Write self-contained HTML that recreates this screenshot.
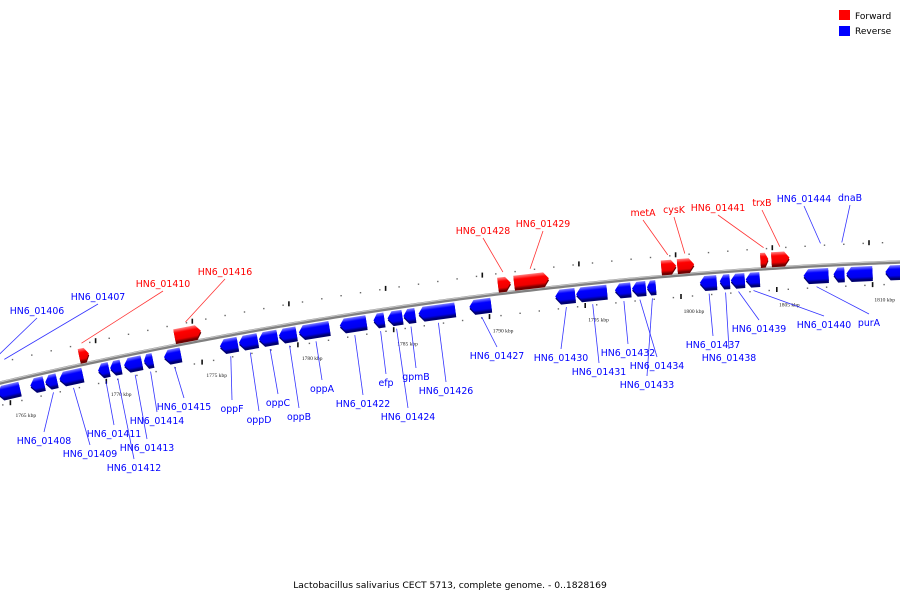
<!DOCTYPE html>
<html><head><meta charset="utf-8"><style>
body{margin:0;background:#fff}
svg{display:block;font-family:"DejaVu Sans","Liberation Sans",sans-serif}
</style></head><body>
<svg id="c" width="900" height="600" viewBox="0 0 900 600">
<defs>
<linearGradient id="gr" x1="0" y1="0" x2="0" y2="1"><stop offset="0" stop-color="#ff8080"/><stop offset="0.3" stop-color="#ff0000"/><stop offset="0.8" stop-color="#ee0000"/><stop offset="1" stop-color="#800000"/></linearGradient>
<linearGradient id="gb" x1="0" y1="0" x2="0" y2="1"><stop offset="0" stop-color="#8080ff"/><stop offset="0.3" stop-color="#0000ff"/><stop offset="0.8" stop-color="#0000ee"/><stop offset="1" stop-color="#000080"/></linearGradient>
</defs>
<g id="legend">
<rect x="839" y="10" width="11" height="10" fill="#f00"/>
<text x="855" y="19" font-size="9" fill="#000">Forward</text>
<rect x="839" y="26" width="11" height="10" fill="#00f"/>
<text x="855" y="34" font-size="9" fill="#000">Reverse</text>
</g>
<text x="450" y="588" font-size="9.2" text-anchor="middle" fill="#000">Lactobacillus salivarius CECT 5713, complete genome. - 0..1828169</text>
</svg>
<script>
const geneStart=[1763.86,1765.57,1766.35,1767.08,1769.10,1769.73,1770.45,1771.49,1772.53,1775.44,1776.43,1777.47,1778.51,1779.55,1781.68,1783.44,1784.17,1785.00,1785.78,1788.43,1792.90,1793.99,1796.01,1796.90,1797.68,1800.43,1801.47,1802.04,1802.82,1805.83,1807.39,1808.06,1810.09,
1768.32,1773.26,1790.04,1790.87,1798.51,1799.34,1803.65,1804.22];
const geneEnd=[1765.05,1766.30,1766.97,1768.32,1769.68,1770.30,1771.39,1771.96,1773.42,1776.38,1777.42,1778.45,1779.44,1781.16,1783.08,1784.01,1784.95,1785.62,1787.70,1789.57,1793.94,1795.60,1796.84,1797.62,1798.14,1801.31,1801.99,1802.77,1803.55,1807.13,1807.96,1809.42,1811.13,
1768.84,1774.66,1790.71,1792.69,1799.29,1800.22,1804.06,1805.16];
const geneStrand=["-","-","-","-","-","-","-","-","-","-","-","-","-","-","-","-","-","-","-","-","-","-","-","-","-","-","-","-","-","-","-","-","-","+","+","+","+","+","+","+","+"];
const geneLabel=["","","HN6_01408","HN6_01409","HN6_01411","HN6_01412","HN6_01413","HN6_01414","HN6_01415","oppF","oppD","oppC","oppB","oppA","HN6_01422","efp","HN6_01424","gpmB","HN6_01426","HN6_01427","HN6_01430","HN6_01431","HN6_01432","HN6_01434","HN6_01433","HN6_01437","HN6_01438","HN6_01439","HN6_01440","purA","","","",
"HN6_01410","HN6_01416","HN6_01428","HN6_01429","metA","cysK","HN6_01441","trxB"];
const extraLabels=["HN6_01406","HN6_01407","HN6_01444","dnaB"];
const extraKbp=[1763.9,1764.6,1806.8,1807.9];
const tickKbp=[1765,1770,1775,1780,1785,1790,1795,1800,1805,1810];
// layout: label anchor positions (not data)
const labelPos=[null,null,[44,444],[90,457],[114,437],[134,471],[147,451],[157,424],[184,410],[232,412],[259,423],[278,406],[299,420],[322,392],[363,407],[386,386],[408,420],[416,380],[446,394],[497,359],[561,361],[599,375],[628,356],[657,369],[647,388],[713,348],[729,361],[759,332],[824,328],[869,326],null,null,null,
[163,287],[225,275],[483,234],[543,227],[643,216],[674,213],[718,211],[762,206]];
const extraPos=[[37,314],[98,300],[804,202],[850,201]];

const svg=document.getElementById('c');
const NS='http://www.w3.org/2000/svg';
const X0=17,PX=19.25;
function xOf(k){return X0+(k-1765)*PX;}
function yOf(x){return 1.111e-4*x*x-0.2344*x+383;}
function ang(x){return Math.atan(2*1.111e-4*x-0.2344)*180/Math.PI;}
function mk(t,a){const e=document.createElementNS(NS,t);for(const k in a)e.setAttribute(k,a[k]);return e;}
function pt(x,off){const a=Math.atan(2*1.111e-4*x-0.2344);return [x-Math.sin(a)*off, yOf(x)+Math.cos(a)*off];}

let d='';for(let x=-10;x<=910;x+=5){d+=(x==-10?'M':'L')+x+','+yOf(x).toFixed(2);}
const bb=mk('path',{d:d,stroke:'#808080','stroke-width':3.5,fill:'none'});


svg.appendChild(bb);
const bb2=mk('path',{d:d,stroke:'#c8c8c8','stroke-width':1,fill:'none',transform:'translate(0,-1)'});


svg.appendChild(bb2);

for(let k=1763;k<=1811;k++){
  const x=xOf(k);
  [-20,22].forEach(off=>{
    const p=pt(x,off);
    const r=mk('rect',{x:(p[0]-0.7).toFixed(1),y:(p[1]-0.7).toFixed(1),width:1.4,height:1.4,fill:'#666'});
    
    
    svg.appendChild(r);
  });
}
tickKbp.forEach(k=>{
  const x=xOf(k);
  const p=pt(x,39);
  const t=mk('text',{x:p[0].toFixed(1),y:p[1].toFixed(1),'font-size':5.5,'text-anchor':'middle',fill:'#222','font-family':'Liberation Serif,serif'});
  t.textContent=k+' kbp';
  
  
  svg.appendChild(t);
  [[xOf(k+4.3),-20],[xOf(k-0.6),22]].forEach(q=>{
    const p2=pt(q[0],q[1]);
    const m=mk('rect',{x:(p2[0]-0.8).toFixed(1),y:(p2[1]-3).toFixed(1),width:1.6,height:5,fill:'#111'});
    
    
    svg.appendChild(m);
  });
});

for(let i=0;i<geneStart.length;i++){
  const x1=xOf(geneStart[i]),x2=xOf(geneEnd[i]);
  const cx=(x1+x2)/2,w=x2-x1,fwd=geneStrand[i]=='+';
  const g=mk('g',{transform:`translate(${cx.toFixed(2)},${yOf(cx).toFixed(2)}) rotate(${ang(cx).toFixed(2)})`});
  
  
  const t=fwd?-16:3,b=fwd?-3:16,h=w/2,tip=Math.min(5,w*0.4),m=(t+b)/2;
  let pts=fwd?[[-h,t],[h-tip,t],[h,m],[h-tip,b],[-h,b]]:[[h,t],[-h+tip,t],[-h,m],[-h+tip,b],[h,b]];
  const sh=mk('polygon',{points:pts.map(p=>p[0]+','+(p[1]+2)).join(' '),fill:fwd?'#700000':'#000070'});
  const pg=mk('polygon',{points:pts.map(p=>p.join(',')).join(' '),fill:fwd?'url(#gr)':'url(#gb)'});
  g.appendChild(sh);g.appendChild(pg);
  svg.appendChild(g);
  if(geneLabel[i]&&labelPos[i]){
    const col=fwd?'#f00':'#00f';
    const lp=labelPos[i];
    const gp=pt(cx,fwd?-21:21);
    const ly=fwd?lp[1]+4:lp[1]-12;
    const ln=mk('line',{x1:gp[0].toFixed(1),y1:gp[1].toFixed(1),x2:lp[0],y2:ly,stroke:col,'stroke-width':0.8,opacity:0.8});
    
    
    svg.appendChild(ln);
    const tx=mk('text',{x:lp[0],y:lp[1],'font-size':9.4,'text-anchor':'middle',fill:col});
    tx.textContent=geneLabel[i];
    
    
    svg.appendChild(tx);
  }
}
for(let i=0;i<extraLabels.length;i++){
  const x=xOf(extraKbp[i]);const gp=pt(x,-22);const lp=extraPos[i];
  const ln=mk('line',{x1:gp[0].toFixed(1),y1:gp[1].toFixed(1),x2:lp[0],y2:lp[1]+4,stroke:'#00f','stroke-width':0.8,opacity:0.8});
  
  
  svg.appendChild(ln);
  const tx=mk('text',{x:lp[0],y:lp[1],'font-size':9.4,'text-anchor':'middle',fill:'#00f'});
  tx.textContent=extraLabels[i];
  
  
  svg.appendChild(tx);
}
</script>
</body></html>
